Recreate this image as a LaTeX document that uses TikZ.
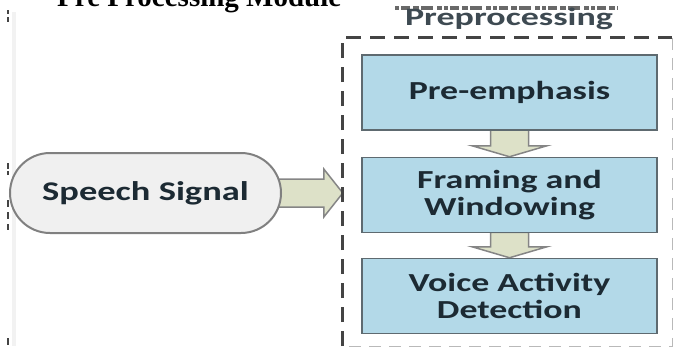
\documentclass[tikz,border=0pt]{standalone}
\usepackage{fontspec}
\setmainfont{Carlito}
\newfontfamily\titlefont{Liberation Serif}
\usetikzlibrary{calc}
\definecolor{boxblue}{HTML}{B3D9E8}
\definecolor{boxedge}{HTML}{5E6A70}
\definecolor{txtdark}{HTML}{1C2A33}
\definecolor{speechfill}{HTML}{F0F0F0}
\definecolor{speechedge}{HTML}{808080}
\definecolor{arrowfill}{HTML}{DDE1C8}
\definecolor{arrowedge}{HTML}{858585}
\definecolor{dashdark}{HTML}{444444}
\newcommand{\wide}[1]{\scalebox{1.38}[1]{#1}}
\newcommand{\downblock}[2]{\draw[blockarrow] ($(#1.south)+(-19,-1)$) -- ($(#2.north)+(-19,-11)$) -- ($(#2.north)+(-37.5,-11)$) -- (#2.north) -- ($(#2.north)+(37.5,-11)$) -- ($(#2.north)+(19,-11)$) -- ($(#1.south)+(19,-1)$) -- cycle;}
\begin{document}
\begin{tikzpicture}[x=1pt,y=-1pt,
  procbox/.style={draw=boxedge, line width=1.5pt, fill=boxblue, minimum width=295pt, minimum height=75pt, inner sep=0pt, font=\bfseries\fontsize{26}{27}\selectfont, text=txtdark, align=center},
  blockarrow/.style={fill=arrowfill, draw=arrowedge, line width=1.5pt, line join=miter},
  darkdash/.style={draw=dashdark, line width=3pt, dash pattern=on 15pt off 9pt},
  lightdash/.style={draw=gray!55, line width=1.2pt, dash pattern=on 12pt off 8pt},
  edgemark/.style={draw=dashdark, line width=1.5pt}
]
\useasboundingbox (0,0) rectangle (673,348);
% title, cut at the top
\node[anchor=base west, inner sep=0pt, font=\titlefont\bfseries\fontsize{29}{29}\selectfont] (title) at (57,6) {Pre Processing Module};
% cut-off marks above the label
\draw[dashdark!80, line width=4pt, dash pattern=on 4pt off 2pt on 9pt off 3pt on 6pt off 2pt on 12pt off 4pt on 5pt off 2pt] (395,7.5) -- (618,7.5);
% left edge fragments
\draw[edgemark] (8,10) -- (8,14) (8,17) -- (8,22) (8,163) -- (8,169) (8,171) -- (8,175) (8,200) -- (8,207) (8,212) -- (8,219) (8,224) -- (8,230) (8,338) -- (8,345);
\draw[gray!10, line width=4pt] (14,12) -- (14,346);
% process boxes
\node[procbox] (pre) at (509.5,92.5) {\wide{Pre-emphasis}};
\node[procbox] (frame) at (509.5,195) {\wide{Framing and}\\\wide{Windowing}};
\node[procbox] (vad) at (509.5,296) {\wide{Voice Activity}\\\wide{Detection}};
% dashed region
\node[inner sep=0pt, minimum width=329pt, minimum height=308pt] (prep) at (507.5,192) {};
\node[anchor=base, inner sep=0pt, text=txtdark!85, font=\bfseries\fontsize{25}{25}\selectfont] (preplabel) at (509,26) {\scalebox{1.44}[1]{Preprocessing}};
% input
\coordinate (tip) at (prep.west|-frame.west);
\draw[blockarrow] ($(270,193)+(0,-14)$) -- ($(prep.west|-270,193)+(-19,-14)$) -- ++(0,-10) -- (prep.west|-270,193) -- ($(prep.west|-270,193)+(-19,24)$) -- ++(0,-10) -- ($(270,193)+(0,14)$) -- cycle;
\node[draw=speechedge, line width=2pt, fill=speechfill, rounded corners=40pt, minimum width=271pt, minimum height=80pt, inner sep=0pt, text=txtdark, font=\bfseries\fontsize{27}{27}\selectfont] (speech) at (145.5,193) {\scalebox{1.35}[1]{Speech Signal}};
% down arrows
\downblock{pre}{frame}
\downblock{frame}{vad}
\node[procbox] at (pre) {\wide{Pre-emphasis}};
\node[procbox] at (frame) {\wide{Framing and}\\\wide{Windowing}};
\node[procbox] at (vad) {\wide{Voice Activity}\\\wide{Detection}};
% dashed frame
\draw[lightdash] (prep.north east) -- (prep.south east) -- (prep.south west);
\draw[darkdash] (prep.south west) -- (prep.north west) -- (prep.north east);
\end{tikzpicture}
\end{document}
